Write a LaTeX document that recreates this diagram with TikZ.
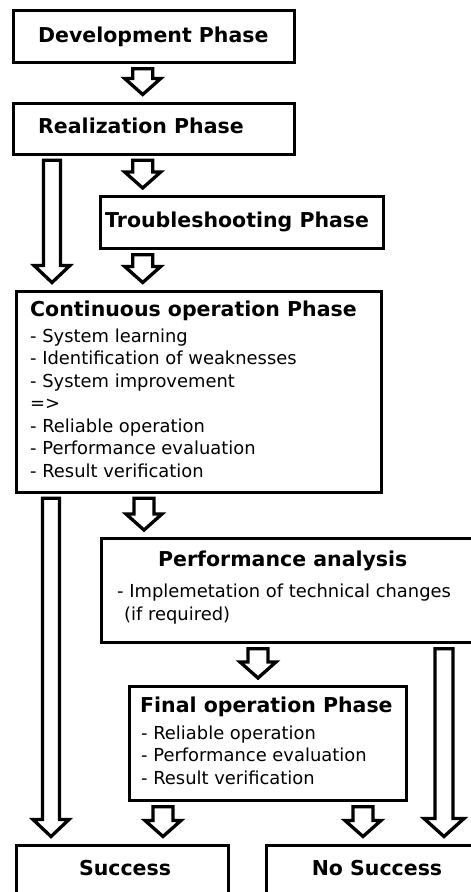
\documentclass[tikz,border=0pt]{standalone}
\usepackage{fontspec}
\setmainfont{DejaVu Sans}
\usetikzlibrary{calc}

% Hollow block arrow from the bottom of one box to the top of another
% #1 x of the axis, #2 source node, #3 target node,
% #4 shaft half-width, #5 head half-width, #6 head length
\newcommand\blkarrow[6]{%
  \coordinate (bt) at (#1,0 |- #2.south);
  \coordinate (bb) at (#1,0 |- #3.north);
  \draw[blk] ($(bt)+(-#4,4.5)$) -- ($(bt)+(#4,4.5)$)
    -- ($(bb)+(#4,-7-#6)$) -- ($(bb)+(#5,-7-#6)$)
    -- ($(bb)+(0,-7)$)
    -- ($(bb)+(-#5,-7-#6)$) -- ($(bb)+(-#4,-7-#6)$) -- cycle;
}

\begin{document}
\begin{tikzpicture}[x=1pt,y=-1pt,
  box/.style={draw, line width=3.3pt, rectangle, anchor=north west,
    inner sep=0pt, fill=white},
  hd/.style={anchor=base west, inner sep=0pt,
    font=\fontsize{20.5}{24}\selectfont\bfseries},
  bd/.style={anchor=base west, inner sep=0pt,
    font=\fontsize{17.9}{22}\selectfont},
  blk/.style={draw, line width=3.3pt, fill=white, line join=miter}]
\useasboundingbox (0,0) rectangle (471,892);

% boxes
\node[box, minimum width=281, minimum height=52] (dev) at (12,9) {};
\node[box, minimum width=281, minimum height=51] (real) at (12,101.5) {};
\node[box, minimum width=283, minimum height=52] (trb) at (98.5,195) {};
\node[box, minimum width=365, minimum height=201] (cont) at (14.5,289.5) {};
\node[box, minimum width=420, minimum height=104] (perf) at (99.5,537) {};
\node[box, minimum width=277, minimum height=114] (fin) at (128,685) {};
\node[box, minimum width=212, minimum height=100] (succ) at (15,843.5) {};
\node[box, minimum width=260, minimum height=100] (nosucc) at (265,843.5) {};

% texts
\node[hd] (tdev) at (38,42.5) {Development Phase};
\node[hd] (treal) at (38,133.3) {Realization Phase};
\node[hd] (ttrb) at (105,227) {Troubleshooting Phase};
\node[hd] (tcont) at (30,316) {Continuous operation Phase};
\node[bd] (c1) at (30,342) {- System learning};
\node[bd] (c2) at (30,364.5) {- Identification of weaknesses};
\node[bd] (c3) at (30,387) {- System improvement};
\node[bd] (c4) at (30,409.5) {=>};
\node[bd] (c5) at (30,432) {- Reliable operation};
\node[bd] (c6) at (30,454.5) {- Performance evaluation};
\node[bd] (c7) at (30,477) {- Result verification};
\node[hd] (tperf) at (158,566) {Performance analysis};
\node[bd] (p1) at (117,597) {- Implemetation of technical changes};
\node[bd] (p2) at (124,620) {(if required)};
\node[hd] (tfin) at (140,712.7) {Final operation Phase};
\node[bd] (f1) at (141,739) {- Reliable operation};
\node[bd] (f2) at (141,761.5) {- Performance evaluation};
\node[bd] (f3) at (141,784) {- Result verification};
\node[hd, anchor=base] (tsucc) at (125,875) {Success};
\node[hd, anchor=base] (tnosucc) at (377,875) {No Success};

% block arrows
\blkarrow{142.7}{dev}{real}{10}{18}{16}
\blkarrow{142.7}{real}{trb}{10}{18}{16}
\blkarrow{142.7}{trb}{cont}{10}{18}{16}
\blkarrow{52}{real}{cont}{8.5}{18}{17}
\blkarrow{144}{cont}{perf}{10}{18}{16}
\blkarrow{51}{cont}{succ}{8.5}{18}{17}
\blkarrow{258}{perf}{fin}{10}{18}{16}
\blkarrow{444}{perf}{nosucc}{9}{20}{18}
\blkarrow{163}{fin}{succ}{10}{18}{16}
\blkarrow{363}{fin}{nosucc}{10}{18}{16}
\end{tikzpicture}
\end{document}
